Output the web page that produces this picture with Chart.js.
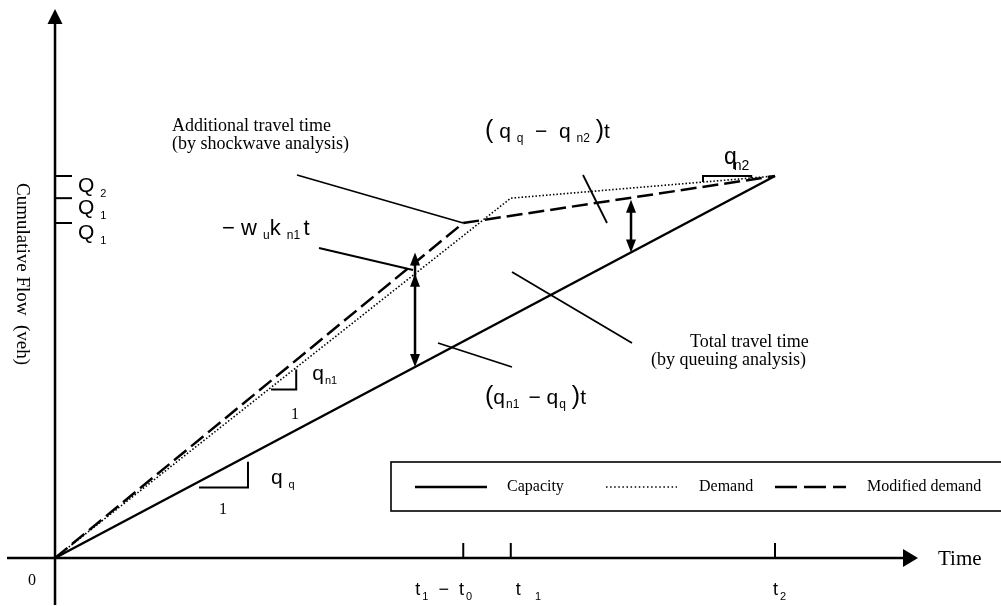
<!DOCTYPE html>
<html>
<head>
<meta charset="utf-8">
<script src="https://cdn.jsdelivr.net/npm/chart.js@4.4.0/dist/chart.umd.min.js"></script>
<style>
  html, body { margin: 0; padding: 0; background: #fff; }
  canvas { display: block; }
</style>
</head>
<body>
<canvas id="flowChart" width="1001" height="606"></canvas>
<script>
// Cumulative flow curves, time and flow scaled so that t2 = 100 and Q2 = 100
const capacityTime = [0, 100];
const capacityFlow = [0, 100];
const demandTime = [0, 63.3, 100];
const demandFlow = [0, 94.2, 100];
const modifiedTime = [0, 56.7, 100];
const modifiedFlow = [0, 87.7, 100];

// axis marks ("_{..}" = subscript)
const timeTicks = [56.7, 63.3, 100];
const timeTickLabels = ['t_{1}  −  t_{0}', 't_{    1}', 't_{2}'];
const flowTicks = [100, 94.2, 87.7];
const flowTickLabels = ['Q _{2}', 'Q _{1}', 'Q _{1}'];

const legendLabels = ['Capacity', 'Demand', 'Modified demand'];

const SANS = '"Liberation Sans", Arial, sans-serif';
const SERIF = '"Liberation Serif", "Times New Roman", serif';

function toPoints(ts, fs) {
    return ts.map((t, i) => ({ x: t, y: fs[i] }));
}

function valueAt(ts, fs, t) {
    for (let i = 0; i < ts.length - 1; i++) {
        if (t <= ts[i + 1]) {
            return fs[i] + (fs[i + 1] - fs[i]) * (t - ts[i]) / (ts[i + 1] - ts[i]);
        }
    }
    return fs[fs.length - 1];
}

// draws text with _{..} subscripts, parentheses a bit taller
function drawRich(ctx, str, x, y, o) {
    const size = o.size || 21;
    const subSize = o.subSize || Math.round(size * 0.58);
    const subDrop = o.subDrop !== undefined ? o.subDrop : Math.round(size * 0.2);
    const subGap = o.subGap || 0;
    const parenSize = o.parenSize || Math.round(size * 1.18);
    const parts = [];
    let last = 0;
    str.replace(/_\{([^}]*)\}/g, (m, sub, idx) => {
        if (idx > last) parts.push({ t: str.slice(last, idx), sub: false });
        parts.push({ t: sub, sub: true });
        last = idx + m.length;
    });
    if (last < str.length) parts.push({ t: str.slice(last), sub: false });

    ctx.textAlign = 'left';
    ctx.textBaseline = 'alphabetic';
    let cx = x;
    parts.forEach(p => {
        if (p.sub) {
            ctx.font = `${subSize}px ${SANS}`;
            cx += subGap;
            ctx.fillText(p.t, cx, y + subDrop);
            cx += ctx.measureText(p.t).width;
        } else {
            for (const ch of p.t) {
                ctx.font = `${(ch === '(' || ch === ')') ? parenSize : size}px ${SANS}`;
                ctx.fillText(ch, cx, y);
                cx += ctx.measureText(ch).width;
            }
        }
    });
    return cx - x;
}

function line(ctx, x1, y1, x2, y2) {
    ctx.beginPath();
    ctx.moveTo(x1, y1);
    ctx.lineTo(x2, y2);
    ctx.stroke();
}

function arrowHead(ctx, x, tipY, dir, len = 13, half = 5) {
    // dir: -1 points up, 1 points down
    ctx.beginPath();
    ctx.moveTo(x, tipY);
    ctx.lineTo(x - half, tipY - dir * len);
    ctx.lineTo(x + half, tipY - dir * len);
    ctx.closePath();
    ctx.fill();
}

const diagramPlugin = {
    id: 'diagram',
    beforeDatasetsDraw(chart) {
        const ctx = chart.ctx;
        const area = chart.chartArea;
        const xs = chart.scales.x, ys = chart.scales.y;
        const ox = xs.getPixelForValue(0), oy = ys.getPixelForValue(0);
        ctx.save();
        ctx.strokeStyle = '#000';
        ctx.fillStyle = '#000';

        // axes with arrows
        ctx.lineWidth = 2.5;
        line(ctx, ox, area.bottom, ox, area.top + 12);
        ctx.beginPath();
        ctx.moveTo(ox, area.top);
        ctx.lineTo(ox - 7.5, area.top + 15);
        ctx.lineTo(ox + 7.5, area.top + 15);
        ctx.closePath();
        ctx.fill();

        line(ctx, area.left, oy, area.right - 12, oy);
        ctx.beginPath();
        ctx.moveTo(area.right, oy);
        ctx.lineTo(area.right - 15, oy - 9);
        ctx.lineTo(area.right - 15, oy + 9);
        ctx.closePath();
        ctx.fill();

        // tick marks
        ctx.lineWidth = 2;
        const tickNudge = [-48, 5, -2];
        timeTicks.forEach((t, i) => {
            const px = xs.getPixelForValue(t);
            line(ctx, px, oy, px, oy - 15);
            drawRich(ctx, timeTickLabels[i], px + tickNudge[i], oy + 37, { size: 18, subSize: 11, subDrop: 5, subGap: 2 });
        });
        flowTicks.forEach((q, i) => {
            const py = ys.getPixelForValue(q);
            line(ctx, ox, py, ox + 17, py);
            drawRich(ctx, flowTickLabels[i], ox + 23, py + 16, { size: 21, subSize: 11, subDrop: 5 });
        });

        // origin, axis titles
        ctx.font = `16px ${SERIF}`;
        ctx.textAlign = 'center';
        ctx.textBaseline = 'alphabetic';
        ctx.fillText('0', ox - 23, oy + 27);

        ctx.font = `21px ${SERIF}`;
        ctx.textAlign = 'left';
        ctx.fillText('Time', area.right + 20, oy + 7);

        ctx.save();
        ctx.translate(ox - 33, 274);
        ctx.rotate(Math.PI / 2);
        ctx.font = `19px ${SERIF}`;
        ctx.textAlign = 'center';
        ctx.textBaseline = 'middle';
        ctx.fillText('Cumulative Flow  (veh)', 0, 0);
        ctx.restore();

        ctx.restore();
    },
    afterDatasetsDraw(chart) {
        const ctx = chart.ctx;
        const xs = chart.scales.x, ys = chart.scales.y;
        const px = v => xs.getPixelForValue(v);
        const py = v => ys.getPixelForValue(v);
        const cap = t => valueAt(capacityTime, capacityFlow, t);
        const dem = t => valueAt(demandTime, demandFlow, t);
        const mod = t => valueAt(modifiedTime, modifiedFlow, t);
        ctx.save();
        ctx.strokeStyle = '#000';
        ctx.fillStyle = '#000';

        // vertical double arrows between the curves
        ctx.lineWidth = 2.5;
        let x = px(50);
        let yb = py(cap(50)), yd = py(dem(50)), ym = py(mod(50)) - 10;
        line(ctx, x, yb - 8, x, ym + 8);
        arrowHead(ctx, x, yb, 1);
        arrowHead(ctx, x, yd, -1);
        arrowHead(ctx, x, ym, -1);

        x = px(80);
        yb = py(cap(80));
        ym = py(mod(80)) + 2;
        line(ctx, x, yb - 8, x, ym + 8);
        arrowHead(ctx, x, yb, 1);
        arrowHead(ctx, x, ym, -1);

        // slope triangles
        ctx.lineWidth = 2;
        ctx.beginPath();
        ctx.moveTo(px(20), py(cap(20)) + 6);
        ctx.lineTo(px(26.8), py(cap(20)) + 6);
        ctx.lineTo(px(26.8), py(cap(26.8)) + 6);
        ctx.stroke();

        ctx.beginPath();
        ctx.moveTo(px(30), py(dem(30)) + 2);
        ctx.lineTo(px(33.5), py(dem(30)) + 2);
        ctx.lineTo(px(33.5), py(dem(33.5)) + 2);
        ctx.stroke();

        ctx.beginPath();
        ctx.moveTo(px(90), py(dem(90)));
        ctx.lineTo(px(90), py(100));
        ctx.lineTo(px(96.7), py(100));
        ctx.lineTo(px(96.7), py(dem(96.7)));
        ctx.stroke();

        drawRich(ctx, 'q _{q}', px(26.8) + 23, py(cap(20)) + 2, { size: 21, subSize: 11, subDrop: 4 });
        drawRich(ctx, 'q_{n1}', px(33.5) + 16, py(dem(30)) - 7, { size: 21, subSize: 11, subDrop: 4, subGap: 1 });
        drawRich(ctx, 'q_{n2}', px(90) + 21, py(100) - 12, { size: 23, subSize: 14, subDrop: 6, subGap: -3 });

        ctx.font = `16px ${SERIF}`;
        ctx.textAlign = 'center';
        ctx.fillText('1', 223, 514);
        ctx.fillText('1', 295, 419);

        // callout leader lines
        ctx.lineWidth = 1.8;
        line(ctx, 297, 175, px(modifiedTime[1]), py(modifiedFlow[1]));
        line(ctx, 319, 248, 413, 270);
        line(ctx, 583, 175, 607, 223);
        line(ctx, 512, 272, 632, 343);
        line(ctx, 438, 343, 512, 367);

        // annotation text
        ctx.font = `18px ${SERIF}`;
        ctx.textAlign = 'left';
        ctx.fillText('Additional travel time', 172, 131);
        ctx.fillText('(by shockwave analysis)', 172, 149);
        ctx.fillText('Total travel time', 690, 347);
        ctx.fillText('(by queuing analysis)', 651, 365);

        drawRich(ctx, '− w _{u}k _{n1 }t', 222, 235, { size: 22, subSize: 12, subDrop: 4 });
        drawRich(ctx, '( q _{q}  −  q _{n2} )t', 485, 138, { size: 21, subSize: 12, subDrop: 4 });
        drawRich(ctx, '(q_{n1 } − q_{q} )t', 485, 404, { size: 21, subSize: 12, subDrop: 4, subGap: 1 });

        // legend box
        ctx.lineWidth = 1.6;
        ctx.strokeRect(391, 462, 620, 49);
        const ly = 487;
        ctx.lineWidth = 2.5;
        line(ctx, 415, ly, 487, ly);
        ctx.lineWidth = 1.5;
        ctx.setLineDash([1.5, 2.6]);
        line(ctx, 606, ly, 677, ly);
        ctx.lineWidth = 2.5;
        ctx.setLineDash([22, 7]);
        line(ctx, 775, ly, 846, ly);
        ctx.setLineDash([]);

        ctx.font = `16px ${SERIF}`;
        ctx.textAlign = 'left';
        ctx.textBaseline = 'middle';
        ctx.fillText(legendLabels[0], 507, ly);
        ctx.fillText(legendLabels[1], 699, ly);
        ctx.fillText(legendLabels[2], 867, ly);

        ctx.restore();
    }
};

new Chart(document.getElementById('flowChart'), {
    type: 'line',
    data: {
        datasets: [
            {
                label: legendLabels[0],
                data: toPoints(capacityTime, capacityFlow),
                borderColor: '#000',
                borderWidth: 2.5,
                pointRadius: 0,
                tension: 0,
                fill: false
            },
            {
                label: legendLabels[1],
                data: toPoints(demandTime, demandFlow),
                borderColor: '#000',
                borderWidth: 1.6,
                borderDash: [1.5, 2],
                pointRadius: 0,
                tension: 0,
                fill: false
            },
            {
                label: legendLabels[2],
                data: toPoints(modifiedTime, modifiedFlow),
                borderColor: '#000',
                borderWidth: 2.5,
                borderDash: [16, 6],
                pointRadius: 0,
                tension: 0,
                fill: false
            }
        ]
    },
    options: {
        responsive: false,
        animation: false,
        events: [],
        layout: { padding: { left: 7, right: 83, top: 9, bottom: 1 } },
        scales: {
            x: { type: 'linear', min: -6.67, max: 119.86, display: false },
            y: { type: 'linear', min: -12.3, max: 143.72, display: false }
        },
        plugins: {
            legend: { display: false },
            tooltip: { enabled: false }
        }
    },
    plugins: [diagramPlugin]
});
</script>
</body>
</html>
